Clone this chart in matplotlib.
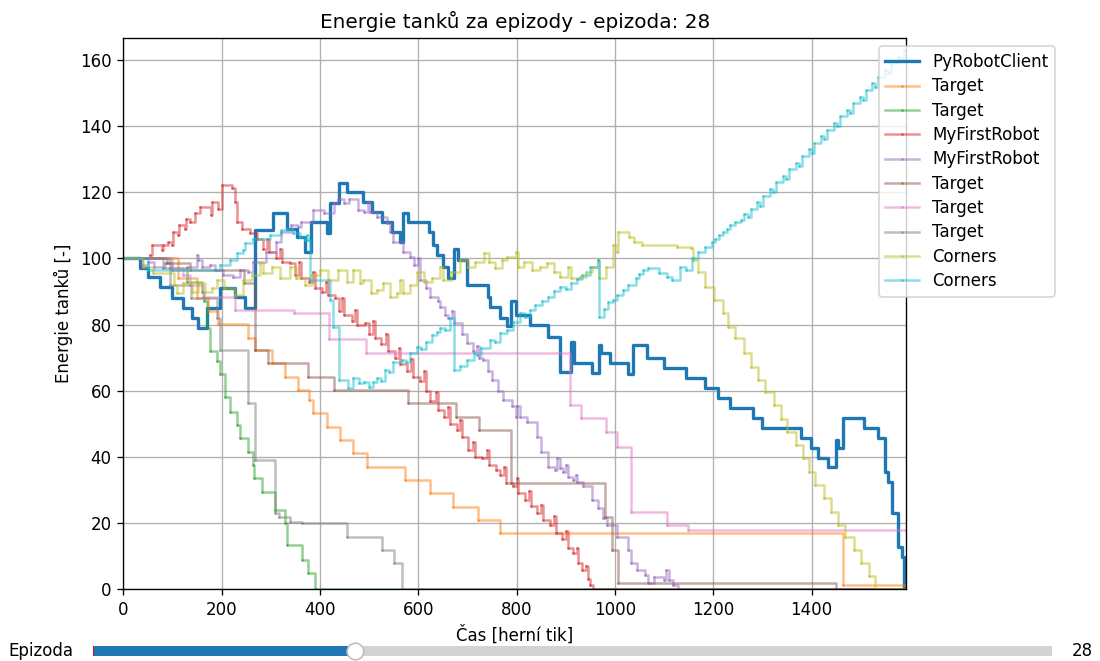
import numpy as np
import matplotlib
matplotlib.use("Agg")
import matplotlib.pyplot as plt
from matplotlib.widgets import Slider

# Episode shown by the slider
episode = 28
episode_min, episode_max = 1, 100
end_tick = 1593

names = ["PyRobotClient", "Target", "Target", "MyFirstRobot", "MyFirstRobot",
         "Target", "Target", "Target", "Corners", "Corners"]

# (tick, energy) breakpoints, drawn as steps
pyrobot = [(0, 100), (35, 97), (51, 94.3), (75, 91.4), (100, 88), (122, 85), (140, 82),
           (153, 79), (171, 85), (197, 91), (228, 88.4), (248, 85), (269, 108.6),
           (305, 113.7), (334, 109), (354, 106.6), (370, 102), (381, 111), (415, 107.6),
           (421, 116.7), (438, 122.8), (456, 120), (488, 117), (507, 114), (527, 111),
           (547, 108), (564, 105), (570, 113.7), (580, 111), (621, 108), (631, 104),
           (639, 101), (651, 97.5), (661, 94), (672, 103), (680, 99.5), (700, 92),
           (741, 88.4), (747, 85.4), (767, 82), (781, 79.5), (788, 87), (798, 82.9),
           (828, 79.9), (865, 76.3), (889, 65.7), (910, 74.8), (916, 68.3), (954, 65.2),
           (967, 73.8), (971, 71.3), (991, 68.3), (1026, 65), (1036, 73.8), (1066, 69.9),
           (1099, 66.8), (1144, 63.8), (1184, 60.8), (1209, 57.8), (1235, 54.7),
           (1280, 51.7), (1300, 48.7), (1378, 45.6), (1398, 42.6), (1414, 39.6),
           (1433, 37), (1449, 45), (1453, 42.6), (1465, 51.7), (1506, 48.7), (1536, 45.6),
           (1549, 35.5), (1555, 32.5), (1563, 23), (1575, 12.8), (1585, 9.8), (1589, 0),
           (1593, 0)]

target_1 = [(0, 100), (112, 94), (150, 88), (172, 84), (192, 80.3), (253, 76), (268, 72.3),
            (303, 68.3), (330, 64.2), (356, 60.2), (377, 57.2), (386, 53.2), (415, 49.1),
            (441, 45.1), (468, 41.1), (496, 37), (574, 33), (625, 29), (670, 24.9),
            (721, 20.9), (767, 16.9), (1465, 1.2), (1593, 1.2)]

target_2 = [(0, 100), (95, 97), (130, 93), (160, 90), (165, 87), (171, 79), (177, 72),
            (191, 69), (197, 65), (208, 58), (218, 53.6), (232, 49.6), (238, 45.6),
            (254, 41.5), (265, 37.5), (267, 33.5), (283, 29.4), (309, 23.9), (330, 20),
            (334, 13.3), (364, 8.8), (376, 4.8), (391, 0), (1593, 0)]

myfirst_1 = [(0, 100), (55, 101), (59, 104), (79, 102.5), (81, 104), (92, 105), (100, 104),
             (102, 108), (112, 107), (114, 110), (125, 109), (128, 112), (136, 111),
             (147, 113.7), (157, 115.7), (179, 113), (181, 117.2), (193, 115), (201, 122.2),
             (222, 121.3), (228, 117), (231, 111), (242, 109), (258, 107.7), (273, 106),
             (285, 103), (292, 106), (296, 102), (310, 100), (318, 103), (322, 99),
             (340, 98.6), (350, 95), (358, 99), (362, 94), (378, 93), (386, 96), (390, 91),
             (405, 90), (412, 93), (416, 89), (430, 88), (438, 84), (446, 88), (450, 83),
             (465, 81), (472, 84.5), (476, 80), (492, 80.5), (500, 77), (508, 81), (512, 76),
             (525, 74), (534, 77), (538, 72), (552, 70), (560, 73), (564, 68), (578, 66),
             (586, 69.5), (590, 64), (604, 63), (612, 66), (616, 60), (625, 57), (636, 59.5),
             (640, 54), (652, 52), (660, 55), (664, 50), (678, 48), (686, 51), (690, 46),
             (702, 42), (712, 44.5), (716, 40), (730, 39.6), (740, 42), (744, 37.5),
             (758, 36), (767, 34.5), (775, 37), (779, 32), (792, 31), (800, 33.5), (804, 29),
             (818, 27), (826, 29.5), (830, 25), (842, 23), (850, 25.5), (854, 21),
             (868, 19.5), (876, 22), (880, 17), (893, 15), (900, 17.5), (904, 12.5),
             (915, 10.9), (922, 12.5), (926, 8), (934, 5.8), (942, 7), (946, 3), (950, 1.2),
             (956, 0), (1593, 0)]

myfirst_2 = [(0, 100), (38, 98), (50, 99), (62, 97.5), (85, 98.5), (100, 96.5), (130, 97.5),
             (150, 101), (153, 99.5), (160, 97.4), (177, 98), (187, 96.5), (203, 95),
             (224, 94.4), (238, 96.5), (254, 96), (265, 99), (290, 102), (310, 105),
             (320, 108), (341, 110), (356, 109.5), (362, 111), (386, 114.6), (409, 113.7),
             (429, 116.7), (437, 118), (450, 116.7), (460, 118), (478, 114.6), (490, 114),
             (498, 117), (502, 114), (517, 112.6), (537, 110.6), (543, 108), (549, 105),
             (570, 102), (584, 100.5), (592, 98), (600, 100), (604, 93.5), (615, 91),
             (625, 88.4), (640, 87), (645, 85.4), (655, 83), (661, 82), (668, 84),
             (672, 80.4), (690, 77), (700, 74.4), (712, 72), (720, 73.5), (724, 70),
             (731, 69.3), (742, 66), (751, 63.2), (762, 60), (773, 57.2), (790, 55.5),
             (798, 52), (801, 55.5), (807, 52), (822, 50.6), (842, 46), (849, 41.5),
             (865, 37), (878, 36), (882, 39.5), (888, 36.5), (895, 35.5), (900, 37.5),
             (904, 34), (914, 33), (920, 34.5), (924, 32.5), (936, 31), (954, 27),
             (965, 24.5), (975, 21.5), (985, 19.4), (1005, 15.8), (1026, 11.8), (1032, 7.9),
             (1046, 5.8), (1062, 4.2), (1068, 1.8), (1079, 3.7), (1099, 2.7), (1105, 5.8),
             (1111, 2.7), (1119, 1.2), (1129, 0), (1593, 0)]

target_3 = [(0, 100), (90, 98.6), (135, 96.5), (245, 92.5), (268, 72.3), (294, 68.3),
            (376, 64.2), (429, 60.2), (580, 56.2), (676, 52.1), (723, 48.1), (789, 32),
            (979, 21.9), (995, 11.8), (1007, 1.8), (1449, 0), (1593, 0)]

target_4 = [(0, 100), (100, 97), (122, 95), (136, 92), (163, 88.4), (228, 84.4),
            (348, 83.4), (418, 75.6), (493, 71.5), (909, 55.7), (932, 51.7), (981, 47.6),
            (1005, 43), (1032, 23.4), (1107, 19.4), (1148, 17.9), (1593, 17.9)]

target_5 = [(0, 100), (80, 97), (96, 92), (137, 88), (190, 82), (197, 72.3), (254, 56.2),
            (269, 39), (309, 23), (316, 21.8), (340, 20.3), (364, 19.9), (456, 15.8),
            (527, 11.8), (550, 7.9), (568, 0), (1593, 0)]

corners_1 = [(0, 100), (40, 97.5), (60, 95.5), (104, 92), (110, 89.5), (122, 92.5),
             (140, 90), (153, 92.5), (167, 90), (180, 91), (191, 93.5), (205, 91), (228, 89),
             (244, 93.5), (262, 95), (278, 98.6), (285, 95.6), (303, 97.4), (319, 94),
             (340, 97.4), (352, 94), (370, 92), (385, 95), (401, 96.5), (417, 93.5),
             (437, 96.5), (456, 93), (468, 96.5), (482, 92.5), (488, 93.5), (503, 89.5),
             (517, 90.5), (529, 92.5), (543, 88.4), (557, 89.5), (564, 93.5), (570, 89.5),
             (584, 92), (598, 96), (612, 93), (629, 94), (645, 97.4), (651, 93.5), (666, 96),
             (686, 99.5), (702, 97.4), (716, 99), (733, 101.6), (745, 99), (757, 97),
             (770, 99.5), (781, 100.5), (798, 102), (802, 97.4), (815, 99), (832, 96.5),
             (848, 97.5), (863, 98.6), (876, 96), (889, 94.4), (904, 97.4), (910, 94),
             (930, 94.4), (942, 96), (954, 97.4), (965, 99.5), (967, 94), (981, 97.4),
             (997, 104), (1005, 102), (1007, 108), (1028, 106.5), (1038, 105), (1056, 104),
             (1127, 103.5), (1154, 103.2), (1158, 99.5), (1170, 96), (1184, 91.4),
             (1201, 87.4), (1219, 83.4), (1231, 79.3), (1245, 75.9), (1262, 71.4),
             (1276, 67.2), (1292, 63.2), (1306, 59.6), (1323, 55.6), (1337, 51.4),
             (1351, 47.6), (1368, 43.6), (1382, 39.6), (1394, 35.5), (1408, 31.5),
             (1425, 27.5), (1439, 23.4), (1453, 19.4), (1469, 15.8), (1486, 11.8),
             (1500, 7.9), (1516, 3.8), (1530, 0), (1593, 0)]

corners_2 = [(0, 100), (50, 96.5), (197, 98), (218, 99.5), (232, 101.6), (244, 102.5),
             (248, 104.6), (265, 106), (299, 107), (320, 108.6), (334, 109), (346, 107.7),
             (360, 106.5), (370, 105.6), (374, 107), (376, 105.6), (380, 93.5), (421, 87.4),
             (427, 79.3), (438, 63.2), (458, 60.8), (468, 63.8), (480, 62.4), (489, 62.6),
             (499, 61), (508, 62.5), (517, 63.8), (525, 63), (533, 66.2), (541, 65.5),
             (549, 68.7), (568, 69.3), (576, 68.6), (584, 71.4), (598, 73.2), (606, 72.5),
             (615, 74.7), (629, 76.8), (639, 77.7), (645, 79), (655, 78.4), (665, 82),
             (672, 66.2), (686, 67.5), (700, 69.3), (713, 71.5), (720, 70.8), (727, 72.9),
             (747, 75.3), (757, 74.6), (767, 77.4), (780, 78.5), (792, 80.8), (808, 83.4),
             (818, 82.3), (828, 84.5), (838, 86), (852, 87.2), (865, 88.4), (877, 90.2),
             (889, 91.4), (900, 90.8), (910, 92.5), (922, 93.8), (934, 95), (950, 97.4),
             (965, 99.5), (967, 82.3), (977, 84.8), (987, 86.8), (996, 87.5), (1005, 89),
             (1016, 90.6), (1026, 92), (1042, 94), (1050, 95.4), (1058, 96.5), (1068, 97),
             (1089, 95.6), (1107, 94.4), (1117, 93.5), (1133, 97.4), (1145, 96.5),
             (1156, 100), (1170, 102), (1184, 103.5), (1198, 105), (1204, 106), (1211, 107),
             (1219, 108), (1229, 109), (1235, 110), (1245, 111), (1256, 111.6), (1262, 113.5),
             (1270, 112.5), (1276, 115), (1290, 117), (1296, 116), (1302, 119), (1316, 121),
             (1322, 120), (1328, 123), (1342, 125), (1348, 124), (1354, 127), (1368, 129),
             (1374, 128), (1380, 131), (1394, 133), (1400, 132), (1406, 135), (1420, 137),
             (1426, 136), (1432, 139), (1446, 141), (1452, 140), (1458, 143), (1472, 145),
             (1478, 144), (1484, 147), (1498, 149), (1504, 148), (1510, 151), (1524, 153),
             (1530, 152), (1536, 155), (1550, 157), (1556, 156), (1562, 159), (1576, 161),
             (1582, 160), (1588, 163), (1593, 163)]

series = [pyrobot, target_1, target_2, myfirst_1, myfirst_2,
          target_3, target_4, target_5, corners_1, corners_2]

fig = plt.figure(figsize=(1100 / 120, 661 / 120), dpi=120)
ax = fig.add_axes([0.112, 0.109, 0.712, 0.8335])

for i, (name, pts) in enumerate(zip(names, series)):
    xs, ys = np.array(pts, dtype=float).T
    if i == 0:
        ax.plot(xs, ys, drawstyle="steps-post", lw=2, label=name)
    else:
        ax.plot(xs, ys, drawstyle="steps-post", lw=1.5, alpha=0.5,
                marker=".", ms=1.5, label=name)

ax.set_xlim(0, end_tick)
ax.set_ylim(0, 166.7)
ax.grid(True)
ax.set_title(f"Energie tanků za epizody - epizoda: {episode}")
ax.set_xlabel("Čas [herní tik]")
ax.set_ylabel("Energie tanků [-]")
ax.legend(loc="upper right", bbox_to_anchor=(1.2, 1), labelspacing=0.38)

# Episode slider under the plot
sax = fig.add_axes([0.0845, 0.0, 0.872, 0.03])
slider = Slider(sax, "Epizoda", episode_min, episode_max, valinit=episode_min,
                valstep=1, valfmt="%d")
slider.set_val(episode)

fig.savefig("out.png", dpi=120)
